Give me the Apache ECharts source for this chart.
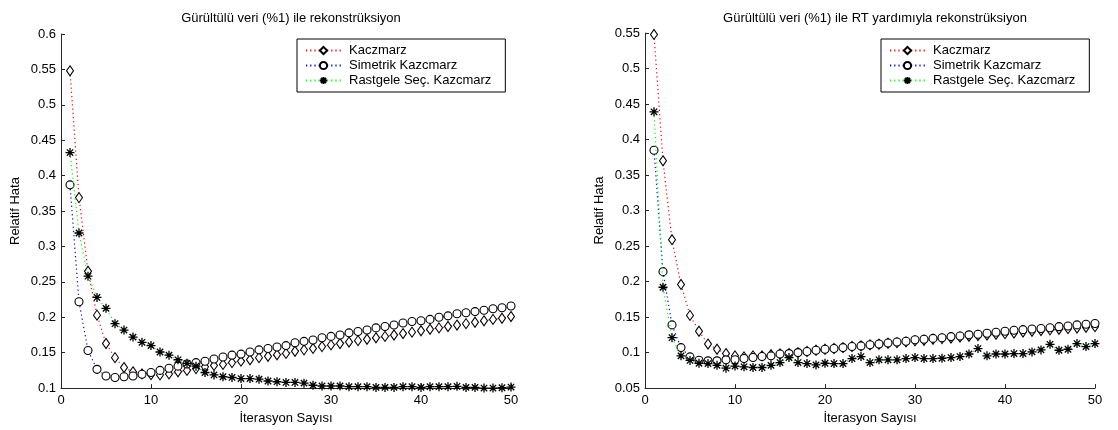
<!DOCTYPE html>
<html>
<head>
<meta charset="utf-8">
<script src="https://cdn.jsdelivr.net/npm/echarts@6/dist/echarts.min.js"></script>
<style>
html,body{margin:0;padding:0;background:#fff;}
#c{width:1118px;height:430px;}
</style>
</head>
<body>
<div id="c"></div>
<script>
// Iteration numbers
const iter = [1,2,3,4,5,6,7,8,9,10,11,12,13,14,15,16,17,18,19,20,21,22,23,24,25,26,27,28,29,30,31,32,33,34,35,36,37,38,39,40,41,42,43,44,45,46,47,48,49,50];

// Left panel: Gürültülü veri (%1) ile rekonstrüksiyon
const leftKaczmarz = [0.548,0.369,0.265,0.203,0.163,0.143,0.129,0.123,0.120,0.119,0.1186,0.120,0.123,0.125,0.1275,0.130,0.132,0.1335,0.136,0.138,0.140,0.143,0.145,0.147,0.149,0.152,0.154,0.156,0.1586,0.161,0.163,0.165,0.167,0.169,0.171,0.173,0.175,0.177,0.179,0.181,0.183,0.185,0.187,0.189,0.191,0.193,0.195,0.197,0.1986,0.201];
const leftSimetrik = [0.387,0.222,0.153,0.1265,0.117,0.115,0.116,0.117,0.1195,0.122,0.125,0.128,0.131,0.134,0.136,0.138,0.141,0.144,0.1465,0.148,0.151,0.154,0.156,0.158,0.160,0.164,0.166,0.168,0.171,0.173,0.175,0.178,0.180,0.182,0.185,0.187,0.189,0.192,0.194,0.195,0.197,0.200,0.202,0.205,0.2065,0.208,0.210,0.212,0.2135,0.216];
const leftRastgele = [0.4326,0.319,0.258,0.228,0.2126,0.191,0.182,0.172,0.1647,0.160,0.151,0.1465,0.140,0.135,0.131,0.122,0.1186,0.116,0.115,0.1135,0.1135,0.1126,0.110,0.109,0.108,0.108,0.107,0.104,0.103,0.103,0.103,0.102,0.102,0.102,0.101,0.101,0.101,0.102,0.102,0.101,0.102,0.102,0.102,0.1025,0.101,0.101,0.100,0.100,0.1005,0.1015];

// Right panel: Gürültülü veri (%1) ile RT yardımıyla rekonstrüksiyon
const rightKaczmarz = [0.548,0.370,0.259,0.196,0.1524,0.130,0.112,0.1047,0.0986,0.0954,0.094,0.0954,0.0954,0.097,0.098,0.0986,0.100,0.1015,0.1033,0.1047,0.1057,0.107,0.1085,0.1094,0.1108,0.1117,0.1131,0.114,0.115,0.1164,0.1174,0.1187,0.1197,0.1206,0.122,0.123,0.124,0.1248,0.1258,0.1267,0.1276,0.129,0.130,0.131,0.132,0.1328,0.1337,0.1347,0.1356,0.1365];
const rightSimetrik = [0.385,0.214,0.139,0.107,0.094,0.0893,0.0884,0.0884,0.0898,0.090,0.0916,0.093,0.0944,0.0954,0.098,0.0986,0.100,0.1015,0.1033,0.1047,0.1057,0.107,0.1085,0.1094,0.111,0.1122,0.1136,0.115,0.116,0.118,0.1188,0.120,0.121,0.1225,0.1234,0.125,0.1258,0.1272,0.1286,0.130,0.1314,0.1323,0.1333,0.134,0.135,0.1365,0.1375,0.139,0.140,0.141];
const rightRastgele = [0.439,0.192,0.121,0.0954,0.089,0.085,0.0846,0.082,0.078,0.081,0.080,0.079,0.079,0.082,0.086,0.093,0.086,0.0846,0.0827,0.085,0.0846,0.0846,0.0916,0.0944,0.086,0.0898,0.0898,0.0898,0.0916,0.093,0.0916,0.0916,0.092,0.093,0.0944,0.098,0.1057,0.0954,0.098,0.098,0.0986,0.0986,0.101,0.1038,0.1117,0.1033,0.1047,0.1127,0.1085,0.1127];

const seriesNames = ['Kaczmarz','Simetrik Kazcmarz','Rastgele Seç. Kazcmarz'];
const titles = ['Gürültülü veri (%1) ile rekonstrüksiyon','Gürültülü veri (%1) ile RT yardımıyla rekonstrüksiyon'];
const xTicks = {min:0, max:50, interval:10};
const yLeftTicks = {min:0.1, max:0.6, interval:0.05};
const yRightTicks = {min:0.05, max:0.55, interval:0.05};
const xName = 'İterasyon Sayısı';
const yName = 'Relatif Hata';

const FONT = '"Liberation Sans", Arial, Helvetica, sans-serif';
const starPath = 'path://M5,0L5,10M0,5L10,5M1.46,1.46L8.54,8.54M1.46,8.54L8.54,1.46';
const lineColors = ['#ff0000','#0000ff','#00ff00'];
const symbols = ['diamond','circle',starPath];
const symbolSizes = [[7,10],8,9];

function pairs(ys){ return iter.map((x,i)=>[x, ys[i]]); }

function mkSeries(idx, ys, gi){
  return {
    type:'line', name:seriesNames[idx], xAxisIndex:gi, yAxisIndex:gi,
    data:pairs(ys), symbol:symbols[idx], symbolSize:symbolSizes[idx],
    showAllSymbol:true, animation:false,
    lineStyle:{color:lineColors[idx], width:1.2, type:[1.2,3]},
    itemStyle:{color: idx===2 ? '#000' : '#fff', borderColor:'#000', borderWidth: idx===2 ? 1.3 : 1.1},
    emphasis:{disabled:true}, z: 2+idx
  };
}

function mkX(gi){
  return {type:'value', gridIndex:gi, min:xTicks.min, max:xTicks.max, interval:xTicks.interval,
    name:xName, nameLocation:'middle', nameGap:23,
    nameTextStyle:{color:'#000', fontSize:13, fontFamily:FONT},
    axisLine:{show:true, onZero:false, lineStyle:{color:'#262626', width:1}},
    axisTick:{show:true, inside:true, length:4, lineStyle:{color:'#262626'}},
    axisLabel:{color:'#000', fontSize:13, fontFamily:FONT, margin:6},
    splitLine:{show:false}};
}
function mkY(gi, t){
  return {type:'value', gridIndex:gi, min:t.min, max:t.max, interval:t.interval,
    name:yName, nameLocation:'middle', nameGap:39,
    nameTextStyle:{color:'#000', fontSize:13, fontFamily:FONT},
    axisLine:{show:true, onZero:false, lineStyle:{color:'#262626', width:1}},
    axisTick:{show:true, inside:true, length:4, lineStyle:{color:'#262626'}},
    axisLabel:{color:'#000', fontSize:13, fontFamily:FONT, margin:5,
      formatter:v=>String(+v.toFixed(2))},
    splitLine:{show:false}};
}
function mkLegend(left){
  return {orient:'vertical', left:left, top:39, data:seriesNames,
    itemWidth:35, itemHeight:9, itemGap:2,
    padding:[5,14,5,8], borderColor:'#000', borderWidth:1, backgroundColor:'#fff',
    selectedMode:false,
    textStyle:{color:'#000', fontSize:13, fontFamily:FONT, padding:[0,0,0,3]}};
}

const chart = echarts.init(document.getElementById('c'), null, {renderer:'canvas'});
chart.setOption({
  animation:false,
  backgroundColor:'#fff',
  title:[
    {text:titles[0], left:286, top:7, textAlign:'center', textStyle:{color:'#000', fontSize:13, fontWeight:'normal', fontFamily:FONT}},
    {text:titles[1], left:870, top:7, textAlign:'center', textStyle:{color:'#000', fontSize:13, fontWeight:'normal', fontFamily:FONT}}
  ],
  legend:[mkLegend(297), mkLegend(881)],
  grid:[
    {left:61, top:34, width:450, height:358, containLabel:false},
    {left:645, top:33, width:450, height:358, containLabel:false}
  ],
  xAxis:[mkX(0), mkX(1)],
  yAxis:[mkY(0, yLeftTicks), mkY(1, yRightTicks)],
  series:[
    mkSeries(0, leftKaczmarz, 0), mkSeries(1, leftSimetrik, 0), mkSeries(2, leftRastgele, 0),
    mkSeries(0, rightKaczmarz, 1), mkSeries(1, rightSimetrik, 1), mkSeries(2, rightRastgele, 1)
  ]
});
</script>
</body>
</html>
